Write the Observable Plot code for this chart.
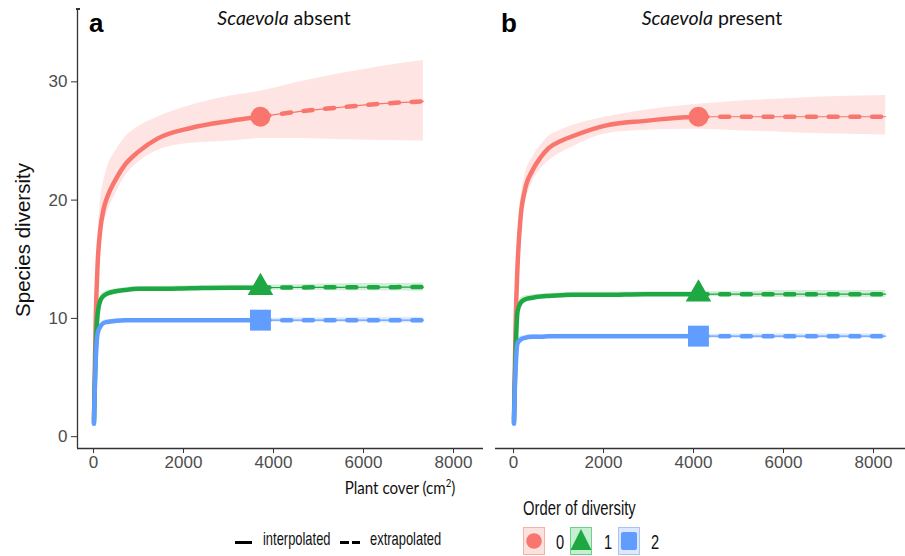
<!DOCTYPE html>
<html>
<head>
<meta charset="utf-8">
<script src="https://cdn.jsdelivr.net/npm/d3@7"></script>
<script src="https://cdn.jsdelivr.net/npm/@observablehq/plot@0.6"></script>
<style>
  html, body { margin: 0; padding: 0; background: #fff; }
  #wrap { position: relative; width: 905px; height: 556px; overflow: hidden; background: #fff; }
  .abs { position: absolute; white-space: nowrap; line-height: 1; }
  .narrow { font-family: "Liberation Sans", Arial, sans-serif; color: #111; transform-origin: 0 0; }
  .title { font-family: Lato, "Open Sans", sans-serif; font-size: 19.5px; color: #111; transform: translateX(-50%); }
  .tag { font-family: "Liberation Sans", Arial, sans-serif; font-weight: bold; font-size: 26px; color: #000; }
</style>
</head>
<body>
<div id="wrap"></div>
<script>
// ---------- data ----------
const orders = ["0", "1", "2"];
const orderColors = ["#F8766D", "#1EA843", "#619CFF"];
const xTicks = [0, 2000, 4000, 6000, 8000];
const yTicks = [0, 10, 20, 30];

// Panel a: Scaevola absent
const coverInterpA = [10, 25, 50, 90, 150, 222, 310, 500, 700, 1000, 1420, 2160, 3040, 3710];
const q0InterpA = [1.5, 5, 10, 14.5, 17.5, 19.2, 20.3, 21.8, 23.0, 24.1, 25.2, 26.1, 26.7, 27.05];
const q0LowA    = [1, 4, 8.5, 13, 16.3, 17.9, 19.0, 20.6, 22.0, 23.2, 24.2, 24.8, 25.0, 25.2];
const q0HighA   = [2, 6, 11.5, 16, 19.8, 21.5, 22.8, 24.2, 25.3, 26.2, 27.0, 28.0, 28.8, 29.2];
const q1InterpA = [1.2, 4, 7.5, 10.3, 11.5, 11.9, 12.1, 12.3, 12.4, 12.5, 12.5, 12.55, 12.6, 12.6];
const q2InterpA = [1.1, 3.5, 6.5, 8.7, 9.3, 9.6, 9.7, 9.8, 9.85, 9.85, 9.85, 9.85, 9.85, 9.85];
const q1BandA   = [0.1, 0.3, 0.5, 0.5, 0.4, 0.3, 0.25, 0.2, 0.2, 0.2, 0.2, 0.2, 0.2, 0.2];
const q2BandA   = [0.1, 0.3, 0.4, 0.4, 0.3, 0.2, 0.2, 0.15, 0.15, 0.15, 0.15, 0.15, 0.15, 0.15];
const coverExtrapA = [3710, 4600, 5500, 6400, 7330];
const q0ExtrapA  = [27.05, 27.5, 27.85, 28.15, 28.35];
const q0ExtLowA  = [25.2, 25.2, 25.1, 25.05, 25.0];
const q0ExtHighA = [29.2, 30.0, 30.7, 31.3, 31.8];
const q1ExtrapA  = [12.6, 12.62, 12.63, 12.64, 12.65];
const q2ExtrapA  = [9.85, 9.85, 9.85, 9.85, 9.85];
const q1ExtBandA = [0.2, 0.25, 0.3, 0.3, 0.35];
const q2ExtBandA = [0.15, 0.2, 0.2, 0.25, 0.25];

// Panel b: Scaevola present
const coverInterpB = [10, 25, 50, 90, 156, 250, 420, 600, 780, 1050, 1310, 2040, 2930, 3820, 4110];
const q0InterpB = [1.5, 5, 10, 14.5, 18.5, 20.8, 22.5, 23.6, 24.4, 25.0, 25.4, 26.3, 26.7, 27.0, 27.05];
const q0LowB    = [1, 4, 8.5, 13, 17.2, 19.5, 21.5, 22.6, 23.3, 24.0, 24.5, 25.6, 25.9, 26.0, 26.0];
const q0HighB   = [2, 6, 11.5, 16, 19.8, 22.0, 23.6, 24.6, 25.4, 25.9, 26.3, 27.0, 27.6, 28.0, 28.1];
const q1InterpB = [1.2, 4, 7.5, 10.6, 11.3, 11.6, 11.75, 11.85, 11.9, 11.95, 12.0, 12.0, 12.05, 12.05, 12.05];
const q2InterpB = [1.1, 3.5, 6, 7.9, 8.2, 8.35, 8.45, 8.45, 8.48, 8.5, 8.5, 8.5, 8.5, 8.5, 8.5];
const q1BandB   = [0.1, 0.3, 0.5, 0.5, 0.4, 0.3, 0.25, 0.2, 0.2, 0.2, 0.2, 0.2, 0.2, 0.2, 0.2];
const q2BandB   = [0.1, 0.3, 0.4, 0.4, 0.3, 0.2, 0.2, 0.15, 0.15, 0.15, 0.15, 0.15, 0.15, 0.15, 0.15];
const coverExtrapB = [4110, 5150, 6200, 7250, 8270];
const q0ExtrapB  = [27.05, 27.05, 27.05, 27.05, 27.05];
const q0ExtLowB  = [26.0, 25.85, 25.7, 25.6, 25.5];
const q0ExtHighB = [28.1, 28.4, 28.6, 28.75, 28.85];
const q1ExtrapB  = [12.05, 12.05, 12.05, 12.05, 12.05];
const q2ExtrapB  = [8.5, 8.5, 8.5, 8.5, 8.5];
const q1ExtBandB = [0.2, 0.25, 0.3, 0.3, 0.3];
const q2ExtBandB = [0.15, 0.2, 0.2, 0.2, 0.2];

// ---------- build tables ----------
function buildPanel(p) {
  const interp = [], extrap = [], ribbon = [], refs = [];
  const seriesI = [p.q0I, p.q1I, p.q2I];
  const seriesE = [p.q0E, p.q1E, p.q2E];
  orders.forEach((q, k) => {
    p.coverI.forEach((x, i) => interp.push({x, y: seriesI[k][i], q}));
    p.coverE.forEach((x, i) => extrap.push({x, y: seriesE[k][i], q}));
    refs.push({x: p.coverI[p.coverI.length - 1], y: seriesI[k][seriesI[k].length - 1], q});
  });
  p.coverI.forEach((x, i) => ribbon.push({x, lo: p.q0LowI[i], hi: p.q0HighI[i], q: "0"}));
  p.coverE.forEach((x, i) => ribbon.push({x, lo: p.q0LowE[i], hi: p.q0HighE[i], q: "0"}));
  [[p.q1I, p.q1BI, p.q1E, p.q1BE, "1"], [p.q2I, p.q2BI, p.q2E, p.q2BE, "2"]].forEach(([vi, bi, ve, be, q]) => {
    p.coverI.forEach((x, i) => ribbon.push({x, lo: vi[i] - bi[i], hi: vi[i] + bi[i], q}));
    p.coverE.forEach((x, i) => ribbon.push({x, lo: ve[i] - be[i], hi: ve[i] + be[i], q}));
  });
  return {interp, extrap, ribbon, refs};
}

const panelA = buildPanel({coverI: coverInterpA, q0I: q0InterpA, q1I: q1InterpA, q2I: q2InterpA,
  q0LowI: q0LowA, q0HighI: q0HighA, q1BI: q1BandA, q2BI: q2BandA,
  coverE: coverExtrapA, q0E: q0ExtrapA, q1E: q1ExtrapA, q2E: q2ExtrapA,
  q0LowE: q0ExtLowA, q0HighE: q0ExtHighA, q1BE: q1ExtBandA, q2BE: q2ExtBandA});
const panelB = buildPanel({coverI: coverInterpB, q0I: q0InterpB, q1I: q1InterpB, q2I: q2InterpB,
  q0LowI: q0LowB, q0HighI: q0HighB, q1BI: q1BandB, q2BI: q2BandB,
  coverE: coverExtrapB, q0E: q0ExtrapB, q1E: q1ExtrapB, q2E: q2ExtrapB,
  q0LowE: q0ExtLowB, q0HighE: q0ExtHighB, q1BE: q1ExtBandB, q2BE: q2ExtBandB});

const xDomain = [-356, 8711];
const yDomain = [-1, 36.2];
const curve = "monotone-x";

function chart(panel, {width, marginLeft, showY, axisFrom, axisTo}) {
  const marks = [
    Plot.areaY(panel.ribbon, {x: "x", y1: "lo", y2: "hi", z: "q", fill: "q", fillOpacity: 0.2, curve}),
    Plot.line(panel.extrap, {x: "x", y: "y", z: "q", stroke: "q", strokeWidth: 1.2, curve}),
    Plot.line(panel.extrap, {x: "x", y: "y", z: "q", stroke: "q", strokeWidth: 4.5, strokeDasharray: "9,12.7", curve}),
    Plot.line(panel.interp, {x: "x", y: "y", z: "q", stroke: "q", strokeWidth: 4.5, curve}),
    Plot.dot(panel.refs.filter(d => d.q === "0"), {x: "x", y: "y", fill: "q", symbol: () => "circle", r: 10}),
    Plot.dot(panel.refs.filter(d => d.q === "1"), {x: "x", y: "y", fill: "q", symbol: () => "triangle", r: 9.5}),
    Plot.dot(panel.refs.filter(d => d.q === "2"), {x: "x", y: "y", fill: "q", symbol: () => "square", r: 11.8}),
    Plot.ruleY([yDomain[0]], {x1: axisFrom, x2: axisTo, stroke: "#333", strokeWidth: 1.3}),
    Plot.axisX({ticks: xTicks, tickFormat: d => String(d), tickSize: 5, tickPadding: 2, stroke: "#333", fill: "#4d4d4d", label: null, fontSize: 17})
  ];
  if (showY) {
    marks.push(Plot.ruleX([xDomain[0]], {y1: yDomain[0], y2: yDomain[1], stroke: "#333", strokeWidth: 1.3}));
    marks.push(Plot.axisY({ticks: yTicks, tickFormat: d => String(d), tickSize: 6, tickPadding: 4, stroke: "#333", fill: "#4d4d4d", label: null, fontSize: 17}));
  }
  return Plot.plot({
    width, height: 556,
    marginLeft, marginRight: 0, marginTop: 8, marginBottom: 108,
    x: {domain: xDomain, axis: null},
    y: {domain: yDomain, axis: null},
    color: {domain: orders, range: orderColors},
    symbol: {domain: ["circle", "triangle", "square"], range: ["circle", "triangle", "square"]},
    style: {fontFamily: "'Liberation Sans', Arial, sans-serif", fontSize: "17px", background: "transparent", overflow: "visible"},
    marks
  });
}

const wrap = document.getElementById("wrap");
const svgA = chart(panelA, {width: 485, marginLeft: 77, showY: true, axisFrom: -356, axisTo: 8667});
svgA.style.position = "absolute"; svgA.style.left = "0px"; svgA.style.top = "0px";
wrap.appendChild(svgA);
const svgB = chart(panelB, {width: 420, marginLeft: 12, showY: false, axisFrom: -400, axisTo: 8711});
svgB.style.position = "absolute"; svgB.style.left = "485px"; svgB.style.top = "0px";
wrap.appendChild(svgB);

// ---------- annotations ----------
function addHTML(html) { wrap.insertAdjacentHTML("beforeend", html); }
addHTML('<div class="abs" style="left:76px;top:8px;width:4px;height:1.5px;background:#333"></div>');
addHTML('<div class="abs tag" style="left:89px;top:10px">a</div>');
addHTML('<div class="abs tag" style="left:501px;top:10px">b</div>');
addHTML('<div class="abs title" style="left:284px;top:8px"><i>Scaevola</i> absent</div>');
addHTML('<div class="abs title" style="left:712px;top:8px"><i>Scaevola</i> present</div>');
addHTML('<div class="abs" style="left:23px;top:240px;font-family:\'Liberation Sans\',Arial,sans-serif;font-size:20.5px;color:#111;transform:translate(-50%,-50%) rotate(-90deg)">Species diversity</div>');
addHTML('<div class="abs" style="left:400px;top:478px;font-family:Lato,\'Open Sans\',sans-serif;font-size:18px;color:#111;transform:translateX(-50%) scaleX(0.84)">Plant cover (cm<sup style="font-size:11.5px;line-height:0">2</sup>)</div>');

// linetype legend
addHTML('<div class="abs" style="left:235px;top:540.5px;width:17px;height:3.5px;background:#000"></div>');
addHTML('<div class="abs narrow" style="left:263px;top:529px;font-size:19px;transform:scaleX(0.68)">interpolated</div>');
addHTML('<div class="abs" style="left:340px;top:540.5px;width:9px;height:3.5px;background:#000"></div>');
addHTML('<div class="abs" style="left:352px;top:540.5px;width:8px;height:3.5px;background:#000"></div>');
addHTML('<div class="abs narrow" style="left:370px;top:529px;font-size:19px;transform:scaleX(0.68)">extrapolated</div>');

// order legend
addHTML('<div class="abs narrow" style="left:523px;top:498px;font-size:20px;transform:scaleX(0.74)">Order of diversity</div>');
const keyBg = ["#fce2df", "#c6eed1", "#dde8fc"];
const keyBorder = ["#f2b1ab", "#6fd08a", "#a7c4f5"];
const keyLeft = [523, 570, 618];
const labLeft = [556, 604, 651];
const shapes = [
  c => `<circle cx="11" cy="14" r="7.8" fill="${c}"/>`,
  c => `<path d="M11,2 L21.5,23 L0.5,23 Z" fill="${c}"/>`,
  c => `<rect x="3" y="5" width="16" height="18" rx="2" fill="${c}"/>`
];
orders.forEach((q, k) => {
  addHTML(`<svg class="abs" style="left:${keyLeft[k]}px;top:527px" width="22" height="28"><rect x="0.5" y="0.5" width="21" height="27" fill="${keyBg[k]}" stroke="${keyBorder[k]}"/>${shapes[k](orderColors[k])}</svg>`);
  addHTML(`<div class="abs narrow" style="left:${labLeft[k]}px;top:533px;font-size:19.5px;transform:scaleX(0.75)">${q}</div>`);
});
</script>
</body>
</html>
